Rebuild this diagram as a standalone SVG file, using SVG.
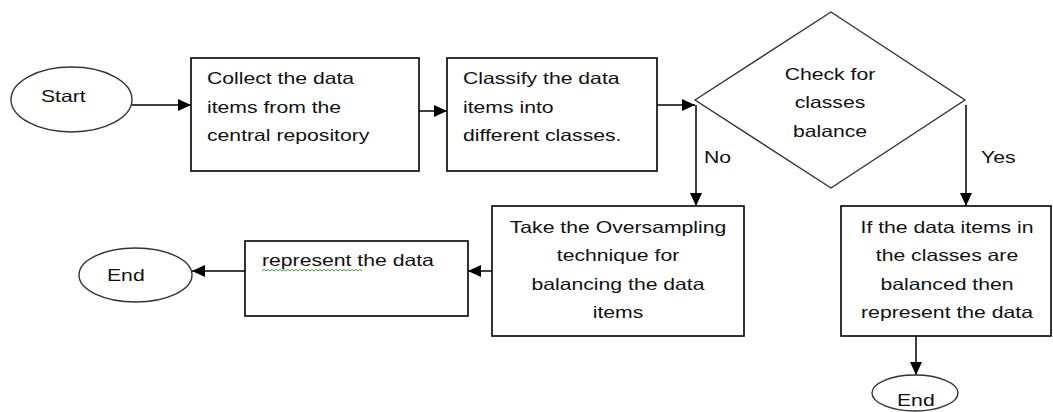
<svg xmlns="http://www.w3.org/2000/svg" width="1053" height="412" viewBox="0 0 1053 412">
  <style>
    .box { fill: #fff; stroke: #000; stroke-width: 1.6; }
    .oval { fill: #fff; stroke: #333; stroke-width: 1.4; }
    .conn { fill: none; stroke: #000; stroke-width: 1.5; marker-end: url(#arrow); }
    text { font-family: "Liberation Sans", Arial, sans-serif; font-size: 16.3px; fill: #111; }
    .mid { text-anchor: middle; }
    .squiggle { fill: none; stroke: #3aa63a; stroke-width: 1; }
  </style>
  <defs>
    <marker id="arrow" markerUnits="userSpaceOnUse" markerWidth="13" markerHeight="12" refX="13" refY="6" orient="auto">
      <path d="M0,0 L13,6 L0,12 z" fill="#000"/>
    </marker>
  </defs>
  <rect width="1053" height="412" fill="#fff"/>

  <g id="connectors">
    <path class="conn" d="M132,105 H191"/>
    <path class="conn" d="M419,111 H447"/>
    <path class="conn" d="M657,105 H695"/>
    <path class="conn" d="M696,105 V206"/>
    <path class="conn" d="M966,105 V206"/>
    <path class="conn" d="M492,271 H468"/>
    <path class="conn" d="M245,271 H192"/>
    <path class="conn" d="M916,336 V375"/>
    <text transform="matrix(1.3 0 0 1 704 163)">No</text>
    <text transform="matrix(1.3 0 0 1 981 163)">Yes</text>
  </g>

  <g id="start">
    <ellipse class="oval" cx="71.5" cy="99.5" rx="60.5" ry="32.5"/>
    <text transform="matrix(1.3 0 0 1 41 102)">Start</text>
  </g>

  <g id="collect">
    <rect class="box" x="191" y="58" width="228" height="113"/>
    <text transform="matrix(1.3 0 0 1 207 84)"><tspan x="0" y="0">Collect the data</tspan><tspan x="0" y="28.7">items from the</tspan><tspan x="0" y="57.4">central repository</tspan></text>
  </g>

  <g id="classify">
    <rect class="box" x="447" y="58" width="210" height="113"/>
    <text transform="matrix(1.3 0 0 1 463 84)"><tspan x="0" y="0">Classify the data</tspan><tspan x="0" y="28.7">items into</tspan><tspan x="0" y="57.4">different classes.</tspan></text>
  </g>

  <g id="check">
    <polygon class="oval" points="695,100 831,12 965,100 831,188"/>
    <text class="mid" transform="matrix(1.3 0 0 1 830 80)"><tspan x="0" y="0">Check for</tspan><tspan x="0" y="28.5">classes</tspan><tspan x="0" y="57">balance</tspan></text>
  </g>

  <g id="oversample">
    <rect class="box" x="492" y="206" width="252" height="130"/>
    <text class="mid" transform="matrix(1.3 0 0 1 618 233)"><tspan x="0" y="0">Take the Oversampling</tspan><tspan x="0" y="28.5">technique for</tspan><tspan x="0" y="57">balancing the data</tspan><tspan x="0" y="85.5">items</tspan></text>
  </g>

  <g id="represent">
    <rect class="box" x="245" y="241" width="223" height="75"/>
    <text transform="matrix(1.3 0 0 1 262 266)">represent the data</text>
    <path class="squiggle" d="M262,271 l2,-1.6 l2,1.6 l2,-1.6 l2,1.6 l2,-1.6 l2,1.6 l2,-1.6 l2,1.6 l2,-1.6 l2,1.6 l2,-1.6 l2,1.6 l2,-1.6 l2,1.6 l2,-1.6 l2,1.6 l2,-1.6 l2,1.6 l2,-1.6 l2,1.6 l2,-1.6 l2,1.6 l2,-1.6 l2,1.6 l2,-1.6 l2,1.6 l2,-1.6 l2,1.6 l2,-1.6 l2,1.6 l2,-1.6 l2,1.6 l2,-1.6 l2,1.6 l2,-1.6 l2,1.6 l2,-1.6 l2,1.6 l2,-1.6 l2,1.6 l2,-1.6 l2,1.6 l2,-1.6 l2,1.6 l2,-1.6 l2,1.6 l2,-1.6 l2,1.6 l2,-1.6 l2,1.6"/>
  </g>

  <g id="end-left">
    <ellipse class="oval" cx="135.5" cy="275" rx="56.5" ry="27"/>
    <text transform="matrix(1.3 0 0 1 107 281)">End</text>
  </g>

  <g id="balanced">
    <rect class="box" x="841" y="206" width="210" height="130"/>
    <text class="mid" transform="matrix(1.3 0 0 1 947 233)"><tspan x="0" y="0">If the data items in</tspan><tspan x="0" y="28.5">the classes are</tspan><tspan x="0" y="57">balanced then</tspan><tspan x="0" y="85.5">represent the data</tspan></text>
  </g>

  <g id="end-right">
    <ellipse class="oval" cx="915" cy="393" rx="43" ry="18"/>
    <text transform="matrix(1.3 0 0 1 897 406)">End</text>
  </g>
</svg>
